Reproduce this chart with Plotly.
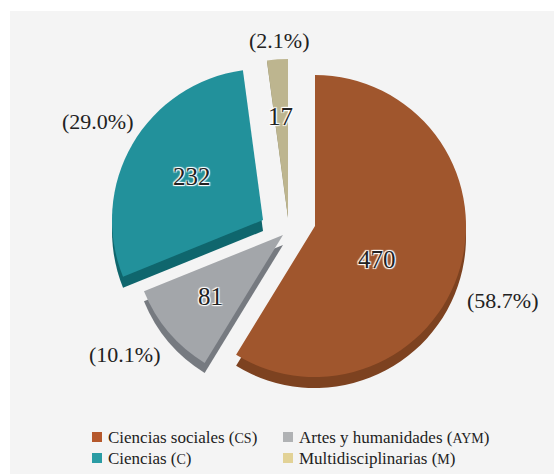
import plotly.graph_objects as go

labels = ["Ciencias sociales", "Artes y humanidades", "Ciencias", "Multidisciplinarias"]
abbr = ["CS", "AYM", "C", "M"]
values = [470, 81, 232, 17]
percents = ["(58.7%)", "(10.1%)", "(29.0%)", "(2.1%)"]
colors = ["#a0562d", "#a3a6aa", "#22919b", "#bdb58f"]
dark = ["#7d4220", "#767a80", "#0f666d", "#8f8a68"]
swatches = ["#b5582c", "#b0b2b4", "#2a9ca4", "#e2d296"]
apex = [(315, 226), (283, 235), (263, 220), (288, 217)]
radius = [151, 150, 151, 158]
depth = [11, 10, 11, 1]
percent_pos = [(502, 300), (125, 354), (97, 122), (279, 41)]
value_pos = [(377, 259), (211, 296), (192, 176), (280, 116)]
legend_pos = [(97, 437), (288, 437), (97, 458), (288, 458)]

W, H = 554, 474
SERIF = "Liberation Serif"
HALO = "1px 1px 1px #fff, -1px -1px 1px #fff, 1px -1px 1px #fff, -1px 1px 1px #fff"
INK = "#222222"
CLEAR = "rgba(0,0,0,0)"


def note(x, y, text, size, xanchor="center", shadow="none"):
    fig.add_annotation(x=x / W, y=1 - y / H, xref="paper", yref="paper", text=text, showarrow=False,
                       xanchor=xanchor, yanchor="middle",
                       font=dict(family=SERIF, size=size, color=INK, shadow=shadow))


def slice_trace(i, palette, dy, hover):
    cx, cy = apex[i]
    r = radius[i]
    shown = [palette[i] if j == i else CLEAR for j in range(len(values))]
    return go.Pie(values=values, labels=labels, sort=False, direction="clockwise",
                  marker=dict(colors=shown, line=dict(width=0)), textinfo="none", showlegend=False,
                  hoverinfo=hover,
                  domain=dict(x=[(cx - r) / W, (cx + r) / W],
                              y=[1 - (cy + dy + r) / H, 1 - (cy + dy - r) / H]))


fig = go.Figure()
for i in range(len(values)):
    fig.add_trace(slice_trace(i, dark, depth[i], "skip"))
for i in range(len(values)):
    fig.add_trace(slice_trace(i, colors, 0, "skip"))

for txt, (x, y) in zip(percents, percent_pos):
    note(x, y, txt, 22)
for v, (x, y) in zip(values, value_pos):
    note(x, y, str(v), 25, shadow=HALO)

shapes = [dict(type="rect", xref="paper", yref="paper", x0=10 / W, x1=1, y0=0, y1=1 - 11 / H,
               fillcolor="#f4f4f4", line=dict(width=0), layer="below")]
for name, ab, sw, (x, y) in zip(labels, abbr, swatches, legend_pos):
    shapes.append(dict(type="rect", xref="paper", yref="paper", x0=(x - 5) / W, x1=(x + 5) / W,
                       y0=1 - (y + 5) / H, y1=1 - (y - 5) / H, fillcolor=sw, line=dict(width=0)))
    note(x + 9, y, f"{name} (<span style='font-size:14px'>{ab}</span>)", 17, xanchor="left")

fig.update_layout(width=W, height=H, margin=dict(l=0, r=0, t=0, b=0), paper_bgcolor="#ffffff",
                  showlegend=False, shapes=shapes)
fig.write_html("out.html", config=dict(displayModeBar=False),
               post_script="document.body.style.margin='0';document.documentElement.style.overflow='hidden';")
